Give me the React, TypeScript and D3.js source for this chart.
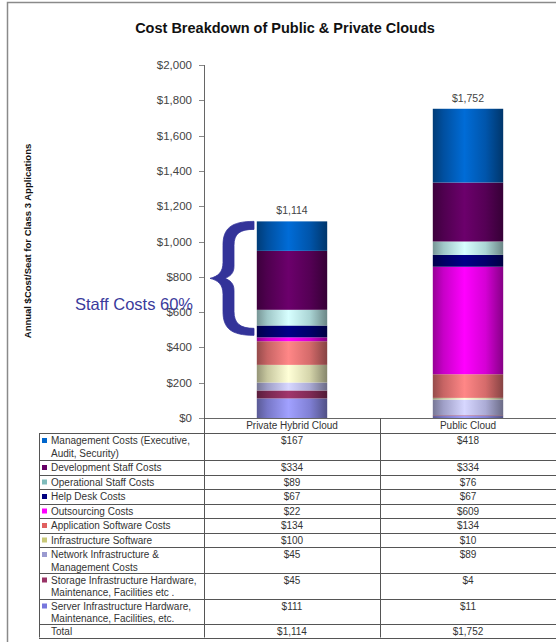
import React from "react";
import * as d3 from "d3";

const title = "Cost Breakdown of Public & Private Clouds";
const yAxisTitle = "Annual $Cost/Seat for Class 3 Applications";
const categories = ["Private Hybrid Cloud", "Public Cloud"];
// Table order (top to bottom); stack order is the reverse (bottom to top)
const seriesKeys = [
  "mgmt", "dev", "ops", "help", "outs", "appsw", "infrasw", "network", "storage", "server",
];
const seriesLabels: string[][] = [
  ["Management Costs (Executive,", "Audit, Security)"],
  ["Development Staff Costs"],
  ["Operational Staff Costs"],
  ["Help Desk Costs"],
  ["Outsourcing Costs"],
  ["Application Software Costs"],
  ["Infrastructure Software"],
  ["Network Infrastructure &", "Management Costs"],
  ["Storage Infrastructure Hardware,", "Maintenance, Facilities etc ."],
  ["Server Infrastructure Hardware,", "Maintenance, Facilities, etc."],
];
const privateValues = [167, 334, 89, 67, 22, 134, 100, 45, 45, 111];
const publicValues = [418, 334, 76, 67, 609, 134, 10, 89, 4, 11];
const seriesColors = [
  "#0066CC", "#660066", "#CCFFFF", "#000080", "#FF00FF",
  "#FF8080", "#FFFFCC", "#CCCCFF", "#993366", "#9999FF",
];
const markerColors = [
  "#0066CC", "#660066", "#7fbcbc", "#000080", "#FF00FF",
  "#e06060", "#c8c878", "#9a9ad0", "#993366", "#7777dd",
];
const yTicks = [0, 200, 400, 600, 800, 1000, 1200, 1400, 1600, 1800, 2000];
const staffLabel = "Staff Costs 60%";
const totalLabel = "Total";

const W = 556;
const H = 642;
const FONT = "Arial, 'Liberation Sans', sans-serif";

export default function App() {
  const y = d3.scaleLinear().domain([0, 2000]).range([418, 65]);
  const x = d3.scaleBand().domain(categories).range([204, 556]).paddingInner(0).paddingOuter(0);
  const barW = x.bandwidth() * 0.4;

  const rows = categories.map((c, i) => {
    const vals = i === 0 ? privateValues : publicValues;
    const o: any = { cat: c };
    seriesKeys.forEach((k, j) => (o[k] = vals[j]));
    return o;
  });
  const stackOrder = [...seriesKeys].reverse();
  const stacked = d3.stack<any>().keys(stackOrder)(rows);
  const totals = rows.map((r) => d3.sum(seriesKeys, (k) => r[k]));
  const fmt = d3.format("$,");

  // Table geometry
  const rowHeights = [27, 14.5, 14.5, 14.5, 14.5, 14.5, 14.5, 25.5, 26, 25.5, 13.5];
  const tableTop = 433;
  const rowTops: number[] = [];
  let acc = tableTop;
  rowHeights.forEach((h) => {
    rowTops.push(acc);
    acc += h;
  });
  const tableBottom = acc;
  const tableLeft = 39;
  const col2 = 380;
  const tableRight = 556;

  // Brace for staff costs on private bar
  const staffTotal = privateValues[0] + privateValues[1] + privateValues[2] + privateValues[3];
  const bTop = y(totals[0]) + 4;
  const bBot = y(totals[0] - staffTotal) - 6;
  const bMid = (bTop + bBot) / 2;
  const L = 223; // left edge of vertical stroke
  const R = 234; // right edge of vertical stroke
  const E = 254; // arm ends
  const T = 210; // tip
  const bracePath = [
    `M${E},${bTop - 4}`,
    `C${L + 8},${bTop - 4} ${L},${bTop + 3} ${L},${bTop + 20}`,
    `L${L},${bMid - 16}`,
    `C${L},${bMid - 6} ${T + 8},${bMid - 2} ${T},${bMid}`,
    `C${T + 8},${bMid + 2} ${L},${bMid + 6} ${L},${bMid + 16}`,
    `L${L},${bBot - 20}`,
    `C${L},${bBot - 3} ${L + 8},${bBot + 4} ${E},${bBot + 4}`,
    `L${E},${bBot - 3}`,
    `C${R + 6},${bBot - 3} ${R},${bBot - 8} ${R},${bBot - 20}`,
    `L${R},${bMid + 12}`,
    `C${R},${bMid + 5} ${R - 4},${bMid + 2} ${R - 9},${bMid}`,
    `C${R - 4},${bMid - 2} ${R},${bMid - 5} ${R},${bMid - 12}`,
    `L${R},${bTop + 20}`,
    `C${R},${bTop + 8} ${R + 6},${bTop + 4} ${E},${bTop + 4}`,
    "Z",
  ].join(" ");

  return (
    <svg
      width={W}
      height={H}
      style={{ position: "absolute", left: 0, top: 0, background: "#fff" }}
      fontFamily={FONT}
    >
      <defs>
        {seriesColors.map((c, i) => {
          const col = d3.color(c)!;
          return (
            <linearGradient key={i} id={`g${i}`} x1="0" x2="1" y1="0" y2="0">
              <stop offset="0%" stopColor={col.darker(1.5).formatHex()} />
              <stop offset="15%" stopColor={col.darker(0.7).formatHex()} />
              <stop offset="45%" stopColor={col.brighter(0.15).formatHex()} />
              <stop offset="75%" stopColor={col.darker(0.5).formatHex()} />
              <stop offset="100%" stopColor={col.darker(1.8).formatHex()} />
            </linearGradient>
          );
        })}
      </defs>
      <rect x={0} y={0} width={W} height={H} fill="#fff" />
      {/* outer frame */}
      <rect x={7.5} y={2.5} width={600} height={700} fill="none" stroke="#8a8a8a" strokeWidth={1.5} />

      {/* title */}
      <text x={285} y={33} textAnchor="middle" fontSize={14.5} fontWeight="bold" fill="#111">
        {title}
      </text>

      {/* y axis title */}
      <text
        transform={`translate(31,${241}) rotate(-90)`}
        textAnchor="middle"
        fontSize={9.5}
        fontWeight="bold"
        fill="#111"
      >
        {yAxisTitle}
      </text>

      {/* y axis */}
      <line x1={204.5} x2={204.5} y1={y(2000)} y2={418} stroke="#666" />
      {yTicks.map((t) => (
        <g key={t}>
          <line x1={199} x2={204} y1={Math.round(y(t)) + 0.5} y2={Math.round(y(t)) + 0.5} stroke="#888" />
          <text x={192} y={y(t) + 4} textAnchor="end" fontSize={11.5} fill="#444">
            {fmt(t)}
          </text>
        </g>
      ))}

      {/* bars */}
      {stacked.map((layer) => {
        const idx = seriesKeys.indexOf(layer.key);
        return (
          <g key={layer.key}>
            {layer.map((d, j) => {
              const cx = x(categories[j])! + x.bandwidth() / 2;
              const h = y(d[0]) - y(d[1]);
              return (
                <rect
                  key={j}
                  x={cx - barW / 2}
                  y={y(d[1])}
                  width={barW}
                  height={Math.max(0, h)}
                  fill={`url(#g${idx})`}
                />
              );
            })}
          </g>
        );
      })}

      {/* total labels */}
      {categories.map((c, j) => (
        <text
          key={c}
          x={x(c)! + x.bandwidth() / 2}
          y={y(totals[j]) - 7}
          textAnchor="middle"
          fontSize={10.5}
          fill="#444"
        >
          {fmt(totals[j])}
        </text>
      ))}

      {/* brace and staff label */}
      <path d={bracePath} fill="#333399" stroke="#333399" strokeWidth={0.8} strokeLinejoin="round" />
      <text x={75} y={310} fontSize={16.5} fill="#3a3a9c">
        {staffLabel}
      </text>

      {/* x axis line / table header */}
      <line x1={204} x2={tableRight} y1={418.5} y2={418.5} stroke="#666" />
      <line x1={col2 + 0.5} x2={col2 + 0.5} y1={418} y2={tableBottom} stroke="#555" />
      <line x1={204.5} x2={204.5} y1={418} y2={tableBottom} stroke="#555" />
      <line x1={tableLeft + 0.5} x2={tableLeft + 0.5} y1={tableTop} y2={tableBottom} stroke="#555" />
      {categories.map((c) => (
        <text key={c} x={x(c)! + x.bandwidth() / 2} y={428.5} textAnchor="middle" fontSize={10} fill="#333">
          {c}
        </text>
      ))}
      {[...rowTops, tableBottom].map((ty, i) => (
        <line key={i} x1={tableLeft} x2={tableRight} y1={Math.round(ty) + 0.5} y2={Math.round(ty) + 0.5} stroke="#555" />
      ))}

      {/* table rows */}
      {seriesKeys.map((k, i) => {
        const top = rowTops[i];
        return (
          <g key={k}>
            <rect x={42} y={top + 5} width={5} height={5} fill={markerColors[i]} />
            {seriesLabels[i].map((line, li) => (
              <text key={li} x={51} y={top + 11 + li * 12.5} fontSize={10} fill="#333">
                {line}
              </text>
            ))}
            <text x={x(categories[0])! + x.bandwidth() / 2} y={top + 11} textAnchor="middle" fontSize={10} fill="#333">
              {fmt(privateValues[i])}
            </text>
            <text x={x(categories[1])! + x.bandwidth() / 2} y={top + 11} textAnchor="middle" fontSize={10} fill="#333">
              {fmt(publicValues[i])}
            </text>
          </g>
        );
      })}
      {/* total row */}
      <text x={51} y={rowTops[10] + 10.5} fontSize={10} fill="#333">
        {totalLabel}
      </text>
      {categories.map((c, j) => (
        <text key={c} x={x(c)! + x.bandwidth() / 2} y={rowTops[10] + 10.5} textAnchor="middle" fontSize={10} fill="#333">
          {fmt(totals[j])}
        </text>
      ))}
    </svg>
  );
}
